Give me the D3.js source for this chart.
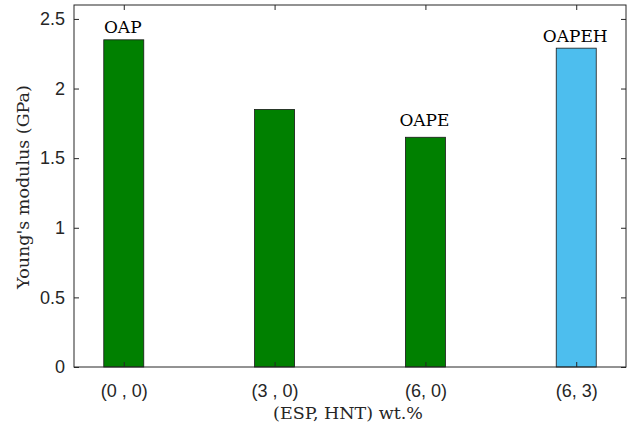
<!DOCTYPE html>
<html>
<head>
<meta charset="utf-8">
<script src="https://cdn.jsdelivr.net/npm/d3@7"></script>
<style>
  html, body { margin: 0; padding: 0; background: #fff; }
  svg { display: block; }
</style>
</head>
<body>
<svg id="chart" width="631" height="425"></svg>
<script>
// Composition groups (ESP, HNT) wt.% and their Young's modulus
const categories = ["(0 , 0)", "(3 , 0)", "(6, 0)", "(6, 3)"];
const modulus = [2.35, 1.85, 1.65, 2.29];
const barColors = ["#008000", "#008000", "#008000", "#4DBEEE"];
const sampleNames = ["OAP", "", "OAPE", "OAPEH"];
const nameAt = [2.40, null, 1.73, 2.335];
const yTicks = [0, 0.5, 1, 1.5, 2, 2.5];
const yMax = 2.6;

const svg = d3.select("#chart");
const frame = { left: 74, right: 626, top: 5, bottom: 367 };
const axisColor = "#262626";
const tickLen = 5;
const serif = "'DejaVu Serif', serif";
const sans = "'Liberation Sans', Arial, sans-serif";

const x = d3.scalePoint()
  .domain(categories)
  .range([frame.left, frame.right])
  .padding(0.33);

const y = d3.scaleLinear()
  .domain([0, yMax])
  .range([frame.bottom, frame.top]);

const barW = 40;

// bars
svg.append("g")
  .selectAll("rect")
  .data(categories)
  .join("rect")
  .attr("x", d => x(d) - barW / 2)
  .attr("width", barW)
  .attr("y", (d, i) => y(modulus[i]))
  .attr("height", (d, i) => y(0) - y(modulus[i]))
  .attr("fill", (d, i) => barColors[i])
  .attr("stroke", "#1a1a1a")
  .attr("stroke-width", 0.8);

// axes (ticks pointing inward, box closed on all sides)
const axisL = svg.append("g")
  .attr("transform", `translate(${frame.left},0)`)
  .call(d3.axisLeft(y).tickValues(yTicks).tickSize(-tickLen).tickPadding(9)
    .tickFormat(d => d3.format("")(d)));
const axisR = svg.append("g")
  .attr("transform", `translate(${frame.right},0)`)
  .call(d3.axisRight(y).tickValues(yTicks).tickSize(-tickLen).tickFormat(""));
const axisB = svg.append("g")
  .attr("transform", `translate(0,${frame.bottom})`)
  .call(d3.axisBottom(x).tickSize(-tickLen).tickPadding(17));
const axisT = svg.append("g")
  .attr("transform", `translate(0,${frame.top})`)
  .call(d3.axisTop(x).tickSize(-tickLen).tickFormat(""));

[axisL, axisR, axisB, axisT].forEach(g => {
  g.select(".domain").remove();
  g.selectAll(".tick line").attr("stroke", axisColor).attr("stroke-width", 1);
  g.selectAll(".tick text")
    .attr("fill", axisColor)
    .style("font-family", sans)
    .style("font-size", "18px");
});

// axis frame
svg.append("rect")
  .attr("x", frame.left)
  .attr("y", frame.top)
  .attr("width", frame.right - frame.left)
  .attr("height", frame.bottom - frame.top)
  .attr("fill", "none")
  .attr("stroke", axisColor)
  .attr("stroke-width", 1);

// sample names above bars
svg.append("g")
  .selectAll("text")
  .data(categories.filter((d, i) => sampleNames[i]))
  .join("text")
  .attr("x", d => x(d) - 1)
  .attr("y", d => y(nameAt[categories.indexOf(d)]))
  .attr("text-anchor", "middle")
  .style("font-family", serif)
  .style("font-size", "17px")
  .attr("fill", "#000")
  .text(d => sampleNames[categories.indexOf(d)]);

// axis titles
svg.append("text")
  .attr("x", (frame.left + frame.right) / 2 - 2)
  .attr("y", 419)
  .attr("text-anchor", "middle")
  .style("font-family", serif)
  .style("font-size", "17.5px")
  .attr("fill", axisColor)
  .text("(ESP, HNT) wt.%");

svg.append("text")
  .attr("transform", `translate(29,${(frame.top + frame.bottom) / 2 + 1}) rotate(-90)`)
  .attr("text-anchor", "middle")
  .style("font-family", serif)
  .style("font-size", "17.5px")
  .attr("fill", axisColor)
  .text("Young's modulus (GPa)");
</script>
</body>
</html>
